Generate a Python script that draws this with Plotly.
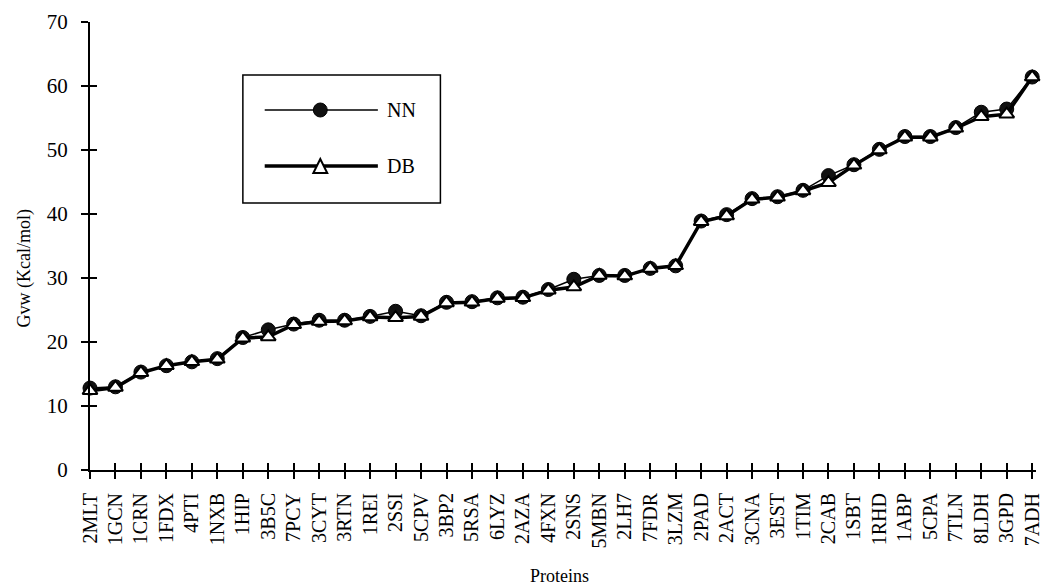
import plotly.graph_objects as go

proteins = ["2MLT","1GCN","1CRN","1FDX","4PTI","1NXB","1HIP","3B5C","7PCY","3CYT",
            "3RTN","1REI","2SSI","5CPV","3BP2","5RSA","6LYZ","2AZA","4FXN","2SNS",
            "5MBN","2LH7","7FDR","3LZM","2PAD","2ACT","3CNA","3EST","1TIM","2CAB",
            "1SBT","1RHD","1ABP","5CPA","7TLN","8LDH","3GPD","7ADH"]
nn_values = [12.8,13.0,15.3,16.3,16.9,17.4,20.7,21.9,22.8,23.4,23.4,24.0,24.8,24.1,26.2,26.3,
             26.9,27.0,28.2,29.8,30.4,30.4,31.5,31.9,38.9,39.9,42.4,42.7,43.7,46.0,47.7,50.1,
             52.1,52.1,53.5,55.9,56.4,61.4]
db_values = [12.4,12.9,15.2,16.3,16.9,17.3,20.6,20.8,22.7,23.2,23.3,23.9,23.8,24.0,26.1,26.2,
             26.8,26.9,28.1,28.6,30.4,30.3,31.5,31.9,38.8,39.7,42.3,42.6,43.6,44.9,47.6,50.0,
             52.0,52.0,53.4,55.2,55.6,61.4]
y_ticks = [0,10,20,30,40,50,60,70]

FONT = "Liberation Serif"
W, H = 1051, 588
L, R, T, B = 90, 8, 22, 118
PW, PH = W - L - R, H - T - B
idx = list(range(len(proteins)))
xmax = len(proteins) - 1 + 0.15

def px(x):
    return (x - L) / PW

def py(y):
    return (H - B - y) / PH

fig = go.Figure()
fig.add_trace(go.Scatter(x=idx, y=nn_values, mode="lines+markers", name="NN",
                         line=dict(color="black", width=1.5),
                         marker=dict(symbol="circle", size=14, color="#111",
                                     line=dict(color="black", width=1)),
                         cliponaxis=False, showlegend=False))
fig.add_trace(go.Scatter(x=idx, y=db_values, mode="lines+markers", name="DB",
                         line=dict(color="black", width=3.5),
                         marker=dict(symbol="triangle-up", size=13, color="white",
                                     line=dict(color="black", width=2)),
                         cliponaxis=False, showlegend=False))
# empty trace on overlay axes (for ticks crossing the axis lines)
fig.add_trace(go.Scatter(x=[], y=[], xaxis="x2", yaxis="y2", showlegend=False))

axis_common = dict(showgrid=False, zeroline=False, color="black")
fig.update_layout(
    width=W, height=H,
    margin=dict(l=L, r=R, t=T, b=B),
    paper_bgcolor="white", plot_bgcolor="white",
    font=dict(family=FONT, size=20, color="black"),
    xaxis=dict(range=[0, xmax], tickmode="array", tickvals=idx, ticktext=proteins,
               tickangle=-90, ticks="outside", ticklen=7, tickwidth=1.5,
               ticklabelstandoff=6,
               showline=True, linewidth=2, linecolor="black",
               tickfont=dict(family=FONT, size=20), **axis_common),
    yaxis=dict(range=[0, 70], tickmode="array", tickvals=y_ticks,
               ticks="outside", ticklen=7, tickwidth=1.5,
               ticklabelstandoff=9,
               showline=True, linewidth=2, linecolor="black",
               tickfont=dict(family=FONT, size=21), **axis_common),
    xaxis2=dict(range=[0, xmax], overlaying="x", anchor="y", side="bottom",
                tickmode="array", tickvals=idx, ticks="inside", ticklen=7, tickwidth=1.5,
                showticklabels=False, showline=False, **axis_common),
    yaxis2=dict(range=[0, 70], overlaying="y", anchor="x", side="left",
                tickmode="array", tickvals=y_ticks, ticks="inside", ticklen=7, tickwidth=1.5,
                showticklabels=False, showline=False, **axis_common),
)

shapes = []
# legend box
shapes.append(dict(type="rect", xref="paper", yref="paper",
                   x0=px(244), x1=px(443), y0=py(203), y1=py(75),
                   line=dict(color="black", width=1.5), fillcolor="white", layer="below"))
# NN legend line + marker
shapes.append(dict(type="line", xref="paper", yref="paper",
                   x0=px(266), x1=px(380), y0=py(110), y1=py(110),
                   line=dict(color="black", width=1.5)))
shapes.append(dict(type="circle", xref="paper", yref="paper",
                   x0=px(315), x1=px(329), y0=py(117), y1=py(103),
                   line=dict(color="black", width=1), fillcolor="#111"))
# DB legend line + marker
shapes.append(dict(type="line", xref="paper", yref="paper",
                   x0=px(266), x1=px(380), y0=py(166), y1=py(166),
                   line=dict(color="black", width=3.5)))
tri = "M {a},{b} L {c},{d} L {e},{f} Z".format(
    a=px(322), b=py(159), c=px(315), d=py(173), e=px(329), f=py(173))
shapes.append(dict(type="path", xref="paper", yref="paper", path=tri,
                   line=dict(color="black", width=2), fillcolor="white"))
fig.update_layout(shapes=shapes)

annotations = [
    dict(text="NN", xref="paper", yref="paper", x=px(387), y=py(110),
         xanchor="left", yanchor="middle", showarrow=False, font=dict(family=FONT, size=20)),
    dict(text="DB", xref="paper", yref="paper", x=px(387), y=py(166),
         xanchor="left", yanchor="middle", showarrow=False, font=dict(family=FONT, size=20)),
    dict(text="Proteins", xref="paper", yref="paper", x=px(563), y=py(576),
         xanchor="center", yanchor="middle", showarrow=False, font=dict(family=FONT, size=18)),
    dict(text="Gvw (Kcal/mol)", xref="paper", yref="paper", x=px(24), y=py(268),
         xanchor="center", yanchor="middle", textangle=-90, showarrow=False,
         font=dict(family=FONT, size=18)),
]
fig.update_layout(annotations=annotations)

# remove the browser's default 8px body margin so the figure sits at the page origin
fig.write_html("out.html",
               config={"displayModeBar": False},
               post_script="document.body.style.margin='0';document.body.style.overflow='hidden';")
